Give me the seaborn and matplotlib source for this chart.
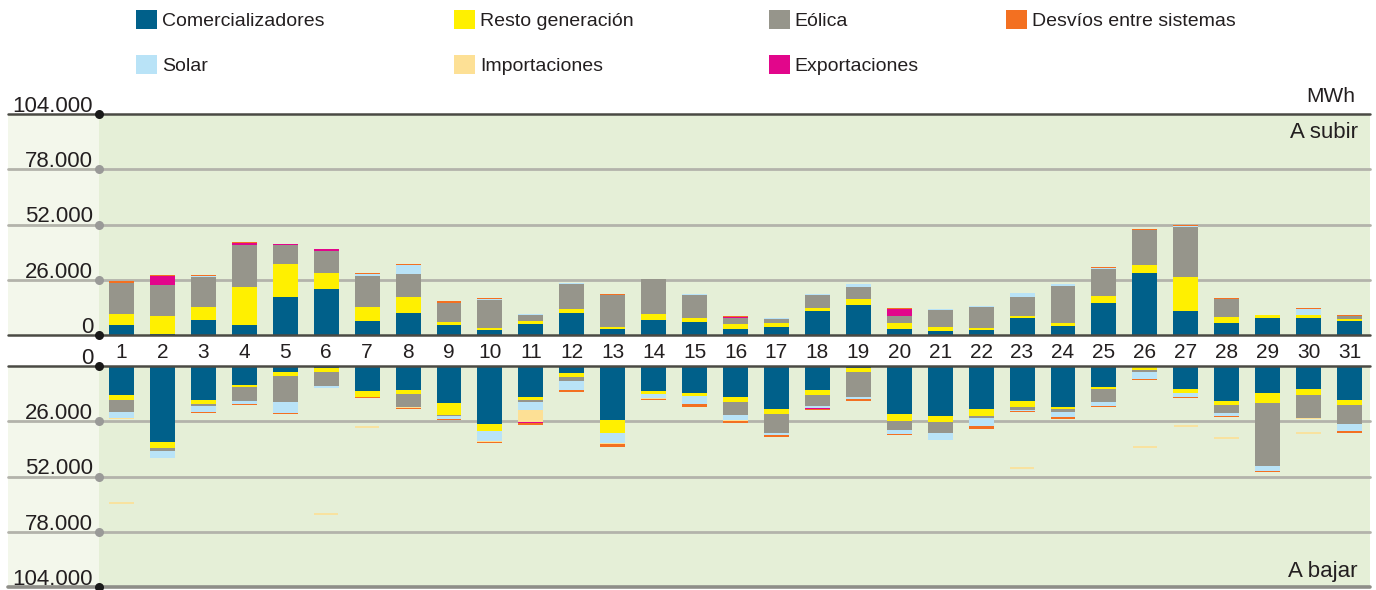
import numpy as np
import pandas as pd
import matplotlib
matplotlib.use("Agg")
import matplotlib.pyplot as plt
import matplotlib.transforms as mtransforms
from matplotlib.patches import Rectangle, Patch
import seaborn as sns

sns.set_style("white")
plt.rcParams["font.family"] = ["Liberation Sans", "DejaVu Sans"]

# Days of the month
dias = [str(d) for d in range(1, 32)]

# Energy "a subir" (MWh) per day and source
com_sub = [4700, 500, 7100, 4700, 18000, 21700, 6600, 10400, 4700, 2400, 5200, 10400, 2800, 7100, 6100, 2800,
           3800, 11300, 14200, 2800, 1900, 2400, 8000, 4300, 15100, 29300, 11300, 5700, 8000, 8000, 6600]
resto_sub = [5200, 8500, 6100, 18000, 15600, 7600, 6600, 7600, 1400, 900, 1400, 1900, 1000, 2800, 1900, 2400,
             1900, 1500, 2800, 2900, 1900, 900, 1000, 1400, 3300, 3800, 16100, 2800, 1500, 1500, 1000]
eol_sub = [14500, 14600, 14200, 19800, 8600, 10400, 14700, 10800, 9000, 13200, 2900, 11800, 15100, 16600, 10900,
           2800, 1900, 6100, 5700, 3300, 8000, 9900, 9000, 17500, 12800, 16100, 23200, 8500, 0, 0, 1400]
solar_sub = [0, 0, 500, 0, 0, 0, 900, 4300, 0, 500, 400, 500, 0, 0, 500, 0, 400, 500, 1400, 0, 500, 500, 1900,
             900, 500, 400, 900, 0, 0, 2800, 0]
imp_sub = [0] * 31
exp_sub = [0, 4000, 0, 1000, 500, 600, 0, 0, 0, 0, 0, 0, 0, 0, 0, 500, 0, 0, 0, 3300, 0, 0, 0, 0, 0, 0, 0, 0, 0,
           0, 0]
desv_sub = [800, 800, 500, 500, 300, 400, 500, 500, 700, 500, 0, 0, 500, 0, 0, 500, 0, 0, 0, 500, 0, 0, 0, 0,
            400, 500, 500, 500, 0, 500, 500]

# Energy "a bajar" (MWh) per day and source
com_baj = [13600, 35600, 16000, 8800, 2600, 1100, 11600, 11200, 17400, 27400, 14500, 3500, 25500, 11600, 12600,
           14500, 20300, 11200, 1100, 22600, 23600, 20300, 16400, 19300, 9700, 500, 10700, 16400, 12600, 10700, 16000]
resto_baj = [2400, 2800, 1900, 900, 1900, 1900, 2900, 1900, 5700, 3400, 1500, 1900, 5800, 1500, 1400, 2400, 2300,
             2400, 1500, 3400, 2900, 3300, 2900, 1000, 1000, 1600, 1900, 1900, 4800, 2900, 2300]
eol_baj = [5700, 1500, 900, 6700, 12400, 6300, 0, 6200, 500, 0, 900, 1500, 0, 0, 0, 6200, 8700, 5200, 11900, 4300,
           5200, 1000, 1400, 1400, 6200, 900, 0, 3900, 29700, 11000, 9100]
solar_baj = [2900, 3300, 2700, 1500, 5300, 900, 0, 0, 1400, 4300, 3800, 4300, 4700, 1900, 3900, 2400, 1400, 800,
             800, 1600, 2900, 3800, 500, 2400, 1900, 2900, 1900, 1400, 2300, 0, 3400]
imp_baj = [400, 300, 0, 0, 0, 0, 0, 400, 0, 500, 5800, 0, 500, 300, 0, 500, 0, 0, 0, 0, 0, 0, 0, 0, 0, 0, 0, 0, 0,
           400, 0]
exp_baj = [0, 0, 0, 0, 0, 0, 0, 0, 0, 0, 500, 0, 0, 0, 0, 0, 0, 700, 0, 0, 0, 0, 0, 0, 0, 0, 0, 0, 0, 0, 0]
desv_baj = [0, 0, 500, 400, 400, 0, 600, 500, 500, 400, 900, 900, 1500, 500, 1400, 1000, 500, 400, 1100, 600, 0,
            1400, 500, 900, 500, 500, 500, 500, 500, 0, 500]
# Isolated import records shown apart from the stacks (MWh level)
imp_baj_aislada = [64300, np.nan, np.nan, np.nan, np.nan, 69700, 28500, np.nan, np.nan, np.nan, np.nan, np.nan,
                   np.nan, np.nan, np.nan, np.nan, np.nan, np.nan, np.nan, np.nan, np.nan, np.nan, 48000, np.nan,
                   np.nan, 38100, 28100, 33800, np.nan, 31400, np.nan]

series = ["Comercializadores", "Resto generación", "Eólica", "Solar", "Importaciones", "Exportaciones",
          "Desvíos entre sistemas"]
colores = ["#00608a", "#fff000", "#96958b", "#b9e3f7", "#fde095", "#e2068b", "#f37021"]

ticks = [0, 26000, 52000, 78000, 104000]
tick_labels = ["0", "26.000", "52.000", "78.000", "104.000"]

W, H = 1376, 590
fig = plt.figure(figsize=(W / 100, H / 100), dpi=100)
fig.patch.set_facecolor("white")


def px_axes(left, top, right, bottom):
    return fig.add_axes([left / W, 1 - bottom / H, (right - left) / W, (bottom - top) / H])


ax_sub = px_axes(99, 114, 1370, 335)
ax_baj = px_axes(99, 366, 1370, 587)

PANEL_BG = "#e5efd7"
LEFT_BG = "#f3f7eb"
TXT = "#231f20"
LEFT_EXT = -(99 - 8) / (1370 - 99)


def apilar(ax, capas):
    capas = np.array(capas, dtype=float)
    base = np.zeros(capas.shape[1])
    for vals, col in zip(capas, colores):
        df = pd.DataFrame({"dia": dias, "valor": vals})
        sns.barplot(data=df, x="dia", y="valor", order=dias, color=col, saturation=1, width=0.61,
                    errorbar=None, linewidth=0, bottom=base.copy(), ax=ax, zorder=2)
        base = base + vals


apilar(ax_sub, [com_sub, resto_sub, eol_sub, solar_sub, imp_sub, exp_sub, desv_sub])
apilar(ax_baj, [com_baj, resto_baj, eol_baj, solar_baj, imp_baj, exp_baj, desv_baj])

xpos = np.arange(len(dias))
ax_baj.hlines(imp_baj_aislada, xpos - 0.3, xpos + 0.3, color=colores[4], linewidth=1.2, zorder=2)

for ax, invert in [(ax_sub, False), (ax_baj, True)]:
    ax.set_facecolor(PANEL_BG)
    ax.set_xlim(-0.55, 30.5)
    if invert:
        ax.set_ylim(104000, 0)
    else:
        ax.set_ylim(0, 104000)
    ax.set_xlabel("")
    ax.set_ylabel("")
    ax.set_yticks([])
    for s in ax.spines.values():
        s.set_visible(False)
    ax.add_patch(Rectangle((LEFT_EXT, 0), -LEFT_EXT, 1, transform=ax.transAxes, clip_on=False,
                           facecolor=LEFT_BG, edgecolor="none", zorder=0))
    lab_tr = mtransforms.offset_copy(ax.get_yaxis_transform(), fig=fig, x=-6, y=2, units="dots")
    for v, lab in zip(ticks, tick_labels):
        edge = v in (0, 104000)
        if edge:
            if invert and v == 104000:
                col, lw = "#8e8e88", 2.6
            else:
                col, lw = "#4a4a44", 1.8
            z = 4
        else:
            col, lw, z = "#b3b3ab", 2.0, 1
        ax.axhline(v, xmin=LEFT_EXT, xmax=1, color=col, linewidth=lw, clip_on=False, zorder=z)
        ax.plot([0], [v], marker="o", markersize=6.5, color="#1a1a1a" if edge else "#9a9a98",
                transform=ax.get_yaxis_transform(), clip_on=False, zorder=5, markeredgewidth=0)
        ax.text(0, v, lab, transform=lab_tr, ha="right", va="baseline", fontsize=16, color=TXT)

ax_sub.tick_params(axis="x", length=0, pad=6, labelsize=15, labelcolor=TXT)
ax_baj.tick_params(axis="x", length=0, labelbottom=False)

fig.text(1355 / W, 1 - 97 / H, "MWh", ha="right", va="center", fontsize=15, color=TXT)
fig.text(1358 / W, 1 - 133 / H, "A subir", ha="right", va="center", fontsize=16, color=TXT)
fig.text(1358 / W, 1 - 571 / H, "A bajar", ha="right", va="center", fontsize=16, color=TXT)

# Legend laid out in four columns
handles = [Patch(facecolor=c, edgecolor="none") for c in colores]
columnas = [([0, 3], 136), ([1, 4], 454), ([2, 5], 769), ([6], 1006)]
for idx, xpx in columnas:
    fig.legend([handles[i] for i in idx], [series[i] for i in idx], loc="upper left",
               bbox_to_anchor=(xpx / W, 1 - 10 / H), frameon=False, fontsize=14, borderpad=0,
               borderaxespad=0, handlelength=1.08, handleheight=1.1, handletextpad=0.25,
               labelspacing=1.3, labelcolor=TXT)

fig.savefig("out.png", dpi=100, facecolor="white")
